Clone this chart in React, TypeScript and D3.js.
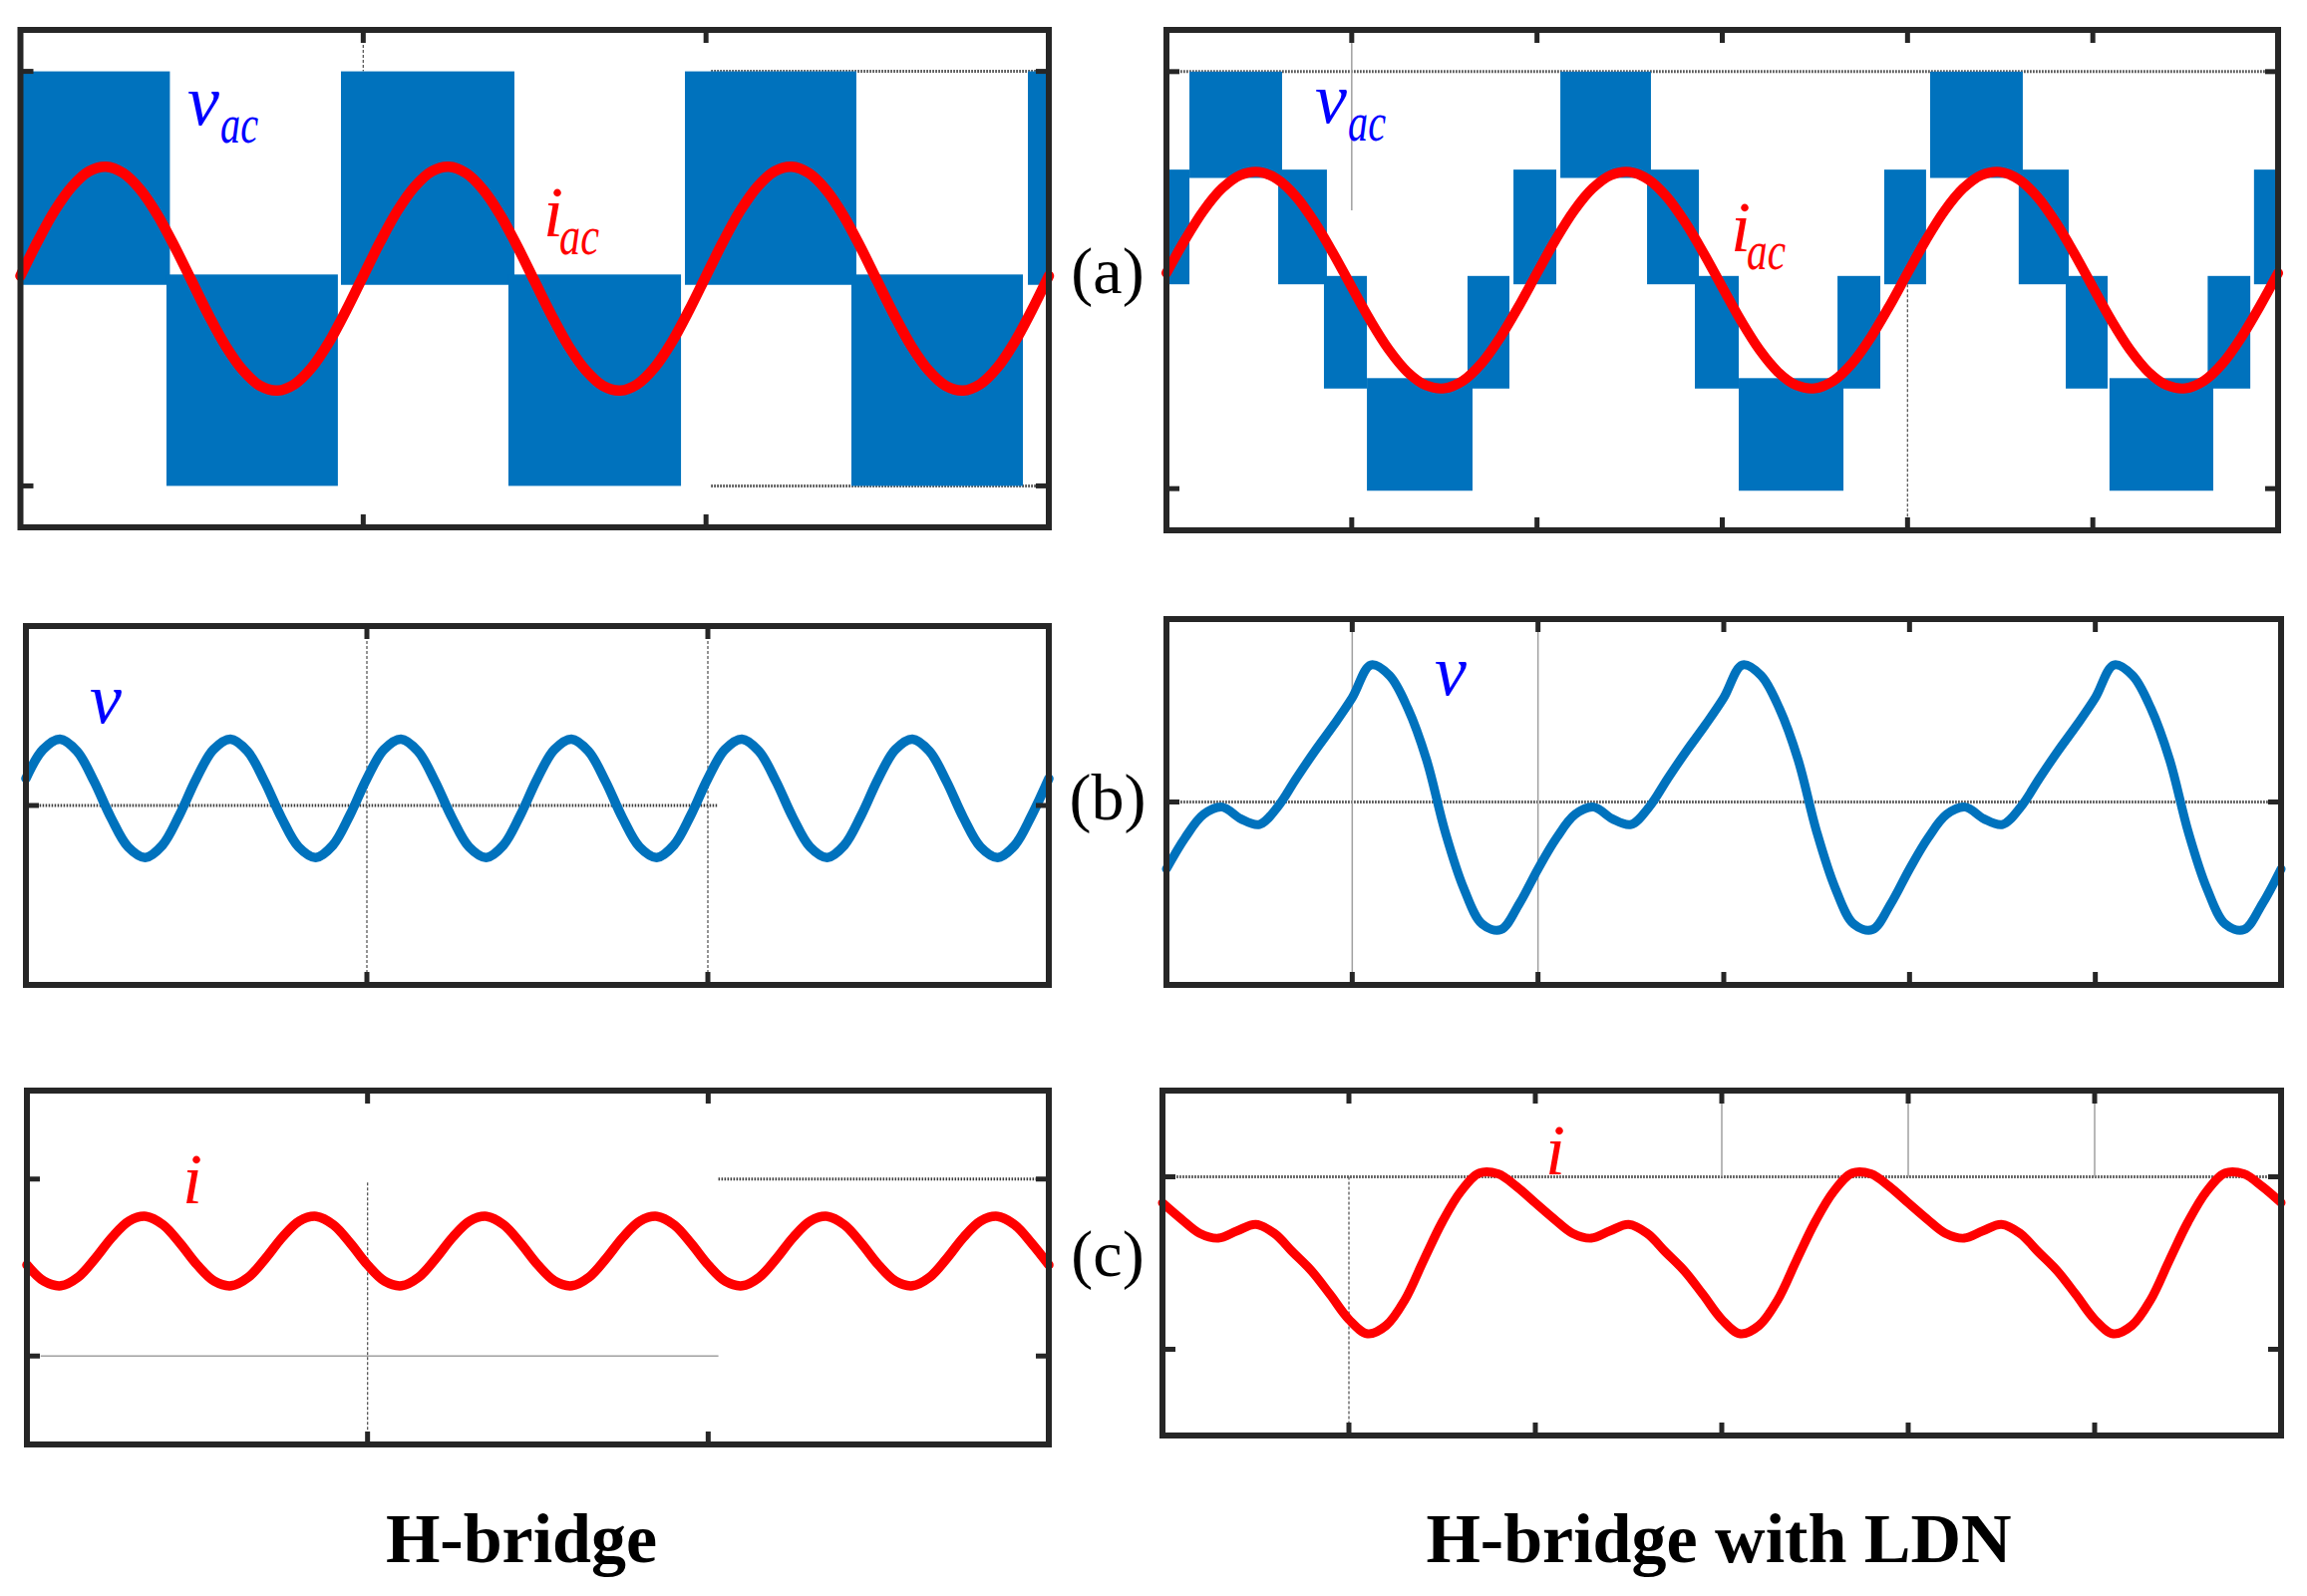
import React from 'react';
import * as d3 from 'd3';

// ---------- DATA (time axis in ms, 1 ms samples over 60 ms = 3 grid periods) ----------
const TIME_MS: number[] = d3.range(0, 61, 1);

const X_TICKS_HB = [20, 40];
const X_TICKS_LDN = [10, 20, 30, 40, 50];
const Y_TICKS_A = [-1, 1];
const Y_TICKS_B = [0];
const Y_TICKS_C = [-0.5, 0.5];

// (a) H-bridge: PWM switched AC voltage bands (ms, normalised level)
const HB_VAC_START = [0, 8.52, 18.7, 28.47, 38.77, 48.48, 58.78];
const HB_VAC_END = [8.72, 18.52, 28.82, 38.54, 48.77, 58.49, 60];
const HB_VAC_HIGH = [1, 0.02, 1, 0.02, 1, 0.02, 1];
const HB_VAC_LOW = [-0.03, -1, -0.03, -1, -0.03, -1, -0.03];

// (a) H-bridge with LDN: multilevel switched voltage bands
const LDN_VAC_START = [0, 1.24, 6.03, 8.5, 10.82, 16.25, 18.73, 21.26, 25.94, 28.52, 30.89, 36.22, 38.74, 41.22, 46.0, 48.54, 50.9, 56.2, 58.7];
const LDN_VAC_END = [1.24, 6.24, 8.66, 10.82, 16.52, 18.51, 21.04, 26.15, 28.74, 30.89, 36.54, 38.53, 41.0, 46.22, 48.7, 50.8, 56.5, 58.5, 60];
const LDN_VAC_HIGH = [0.53, 1.0, 0.53, 0.02, -0.47, 0.02, 0.53, 1.0, 0.53, 0.02, -0.47, 0.02, 0.53, 1.0, 0.53, 0.02, -0.47, 0.02, 0.53];
const LDN_VAC_LOW = [-0.02, 0.49, -0.02, -0.52, -1.01, -0.52, -0.02, 0.49, -0.02, -0.52, -1.01, -0.52, -0.02, 0.49, -0.02, -0.52, -1.01, -0.52, -0.02];

// (a) AC currents
const HB_IAC = [
  0.013, 0.179, 0.328, 0.444, 0.518, 0.54, 0.509, 0.429, 0.307, 0.154,
  -0.013, -0.179, -0.328, -0.444, -0.518, -0.54, -0.509, -0.429, -0.307, -0.154,
  0.013, 0.179, 0.328, 0.444, 0.518, 0.54, 0.509, 0.429, 0.307, 0.154,
  -0.013, -0.179, -0.328, -0.444, -0.518, -0.54, -0.509, -0.429, -0.307, -0.154,
  0.013, 0.179, 0.328, 0.444, 0.518, 0.54, 0.509, 0.429, 0.307, 0.154,
  -0.013, -0.179, -0.328, -0.444, -0.518, -0.54, -0.509, -0.429, -0.307, -0.154,
  0.013,
];
const LDN_IAC = [
  0.034, 0.193, 0.333, 0.44, 0.504, 0.519, 0.483, 0.4, 0.277, 0.128,
  -0.034, -0.193, -0.333, -0.44, -0.504, -0.519, -0.483, -0.4, -0.277, -0.128,
  0.034, 0.193, 0.333, 0.44, 0.504, 0.519, 0.483, 0.4, 0.277, 0.128,
  -0.034, -0.193, -0.333, -0.44, -0.504, -0.519, -0.483, -0.4, -0.277, -0.128,
  0.034, 0.193, 0.333, 0.44, 0.504, 0.519, 0.483, 0.4, 0.277, 0.128,
  -0.034, -0.193, -0.333, -0.44, -0.504, -0.519, -0.483, -0.4, -0.277, -0.128,
  0.034,
];

// (b) DC-link voltages
const HB_V = [
  0.15, 0.312, 0.37, 0.302, 0.134, -0.07, -0.232, -0.29, -0.222, -0.054,
  0.15, 0.312, 0.37, 0.302, 0.134, -0.07, -0.232, -0.29, -0.222, -0.054,
  0.15, 0.312, 0.37, 0.302, 0.134, -0.07, -0.232, -0.29, -0.222, -0.054,
  0.15, 0.312, 0.37, 0.302, 0.134, -0.07, -0.232, -0.29, -0.222, -0.054,
  0.15, 0.312, 0.37, 0.302, 0.134, -0.07, -0.232, -0.29, -0.222, -0.054,
  0.15, 0.312, 0.37, 0.302, 0.134, -0.07, -0.232, -0.29, -0.222, -0.054,
  0.15,
];
const LDN_V = [
  -0.366, -0.196, -0.068, -0.028, -0.092, -0.123, -0.025, 0.131, 0.28, 0.42,
  0.57, 0.749, 0.692, 0.51, 0.231, -0.162, -0.471, -0.668, -0.698, -0.555,
  -0.366, -0.196, -0.068, -0.028, -0.092, -0.123, -0.025, 0.131, 0.28, 0.42,
  0.57, 0.749, 0.692, 0.51, 0.231, -0.162, -0.471, -0.668, -0.698, -0.555,
  -0.366, -0.196, -0.068, -0.028, -0.092, -0.123, -0.025, 0.131, 0.28, 0.42,
  0.57, 0.749, 0.692, 0.51, 0.231, -0.162, -0.471, -0.668, -0.698, -0.555,
  -0.366,
];

// (c) DC-side currents
const HB_I = [
  0.015, -0.077, -0.103, -0.055, 0.05, 0.171, 0.263, 0.289, 0.241, 0.136,
  0.015, -0.077, -0.103, -0.055, 0.05, 0.171, 0.263, 0.289, 0.241, 0.136,
  0.015, -0.077, -0.103, -0.055, 0.05, 0.171, 0.263, 0.289, 0.241, 0.136,
  0.015, -0.077, -0.103, -0.055, 0.05, 0.171, 0.263, 0.289, 0.241, 0.136,
  0.015, -0.077, -0.103, -0.055, 0.05, 0.171, 0.263, 0.289, 0.241, 0.136,
  0.015, -0.077, -0.103, -0.055, 0.05, 0.171, 0.263, 0.289, 0.241, 0.136,
  0.015,
];
const LDN_I = [
  0.349, 0.256, 0.172, 0.144, 0.186, 0.224, 0.172, 0.062, -0.046, -0.184,
  -0.327, -0.41, -0.362, -0.214, 0.014, 0.237, 0.415, 0.522, 0.517, 0.443,
  0.349, 0.256, 0.172, 0.144, 0.186, 0.224, 0.172, 0.062, -0.046, -0.184,
  -0.327, -0.41, -0.362, -0.214, 0.014, 0.237, 0.415, 0.522, 0.517, 0.443,
  0.349, 0.256, 0.172, 0.144, 0.186, 0.224, 0.172, 0.062, -0.046, -0.184,
  -0.327, -0.41, -0.362, -0.214, 0.014, 0.237, 0.415, 0.522, 0.517, 0.443,
  0.35,
];

const ROW_LABELS = ['(a)', '(b)', '(c)'];
const COLUMN_TITLES = ['H-bridge', 'H-bridge with LDN'];

// ---------- STYLE / LAYOUT ----------
const FRAME = '#262626';
const BLUE = '#0072BD';
const RED = '#FF0000';
const LABEL_BLUE = '#0000FF';
const SERIF = '"Liberation Serif", "Times New Roman", serif';

type Box = { x0: number; x1: number; y0: number; y1: number };
type Grid = { dir: 'h' | 'v'; at: number; from: number; to: number; kind: 'thick' | 'thin' | 'light' };

const GRID_STYLE: Record<string, { stroke: string; width: number; dash?: string }> = {
  thick: { stroke: '#3c3c3c', width: 3, dash: '1.5 1.5' },
  thin: { stroke: '#5a5a5a', width: 1.3, dash: '3 2' },
  light: { stroke: '#a0a0a0', width: 1.5 },
};

type Scale = d3.ScaleLinear<number, number>;

function Panel(props: {
  box: Box;
  yDomain: [number, number];
  xTicks: number[];
  yTicks: number[];
  grids: Grid[];
  render: (x: Scale, y: Scale) => React.ReactNode;
}) {
  const { box, yDomain, xTicks, yTicks, grids, render } = props;
  const x = d3.scaleLinear().domain([0, 60]).range([box.x0, box.x1]);
  const y = d3.scaleLinear().domain(yDomain).range([box.y1, box.y0]);
  const TL = 13;
  return (
    <g>
      {grids.map((g, i) => {
        const st = GRID_STYLE[g.kind];
        const p =
          g.dir === 'h'
            ? { x1: x(g.from), x2: x(g.to), y1: y(g.at), y2: y(g.at) }
            : { x1: x(g.at), x2: x(g.at), y1: y(g.from), y2: y(g.to) };
        return <line key={i} {...p} stroke={st.stroke} strokeWidth={st.width} strokeDasharray={st.dash} />;
      })}
      {render(x, y)}
      <rect x={box.x0} y={box.y0} width={box.x1 - box.x0} height={box.y1 - box.y0} fill="none" stroke={FRAME} strokeWidth={6} />
      {xTicks.map((t) => (
        <g key={'x' + t} stroke={FRAME} strokeWidth={5}>
          <line x1={x(t)} x2={x(t)} y1={box.y0} y2={box.y0 + TL} />
          <line x1={x(t)} x2={x(t)} y1={box.y1} y2={box.y1 - TL} />
        </g>
      ))}
      {yTicks.map((t) => (
        <g key={'y' + t} stroke={FRAME} strokeWidth={5}>
          <line x1={box.x0} x2={box.x0 + TL} y1={y(t)} y2={y(t)} />
          <line x1={box.x1} x2={box.x1 - TL} y1={y(t)} y2={y(t)} />
        </g>
      ))}
    </g>
  );
}

function curve(x: Scale, y: Scale, vals: number[]) {
  return (
    d3
      .line<number>()
      .x((_, i) => x(TIME_MS[i]))
      .y((d) => y(d))
      .curve(d3.curveCatmullRom.alpha(0.5))(vals) || ''
  );
}

function bands(x: Scale, y: Scale, s: number[], e: number[], lo: number[], hi: number[]) {
  return s.map((st, i) => (
    <rect key={i} x={x(st)} width={x(e[i]) - x(st)} y={y(hi[i])} height={y(lo[i]) - y(hi[i])} fill={BLUE} />
  ));
}

function Sym(props: { x: number; y: number; main: string; sub?: string; color: string; subLen?: number }) {
  const { x, y, main, sub, color, subLen } = props;
  return (
    <g fill={color} fontFamily={SERIF} fontStyle="italic">
      <text x={x} y={y} fontSize={72}>
        {main}
      </text>
      {sub && (
        <text x={x + (main === 'v' ? 33 : 16)} y={y + 18} fontSize={54} textLength={subLen} lengthAdjust="spacingAndGlyphs">
          {sub}
        </text>
      )}
    </g>
  );
}

export default function App() {
  const AL: Box = { x0: 20.5, x1: 1052, y0: 30, y1: 529 };
  const AR: Box = { x0: 1170, x1: 2285, y0: 30, y1: 532 };
  const BL: Box = { x0: 26, x1: 1052, y0: 628, y1: 988 };
  const BR: Box = { x0: 1170, x1: 2288, y0: 621, y1: 988 };
  const CL: Box = { x0: 27, x1: 1052, y0: 1094, y1: 1449 };
  const CR: Box = { x0: 1166, x1: 2288, y0: 1094, y1: 1440 };

  const lineStyle = { fill: 'none', strokeLinejoin: 'round' as const, strokeLinecap: 'round' as const };

  return (
    <svg width={2314} height={1601} style={{ position: 'absolute', left: 0, top: 0, background: '#fff' }}>
      <rect x={0} y={0} width={2314} height={1601} fill="#fff" />

      {/* (a) left */}
      <Panel
        box={AL}
        yDomain={[-1.2, 1.2]}
        xTicks={X_TICKS_HB}
        yTicks={Y_TICKS_A}
        grids={[
          { dir: 'v', at: 20, from: 1.2, to: 1.0, kind: 'thin' },
          { dir: 'h', at: 1, from: 40.3, to: 60, kind: 'thick' },
          { dir: 'h', at: -1, from: 40.3, to: 60, kind: 'thick' },
        ]}
        render={(x, y) => (
          <g>
            {bands(x, y, HB_VAC_START, HB_VAC_END, HB_VAC_LOW, HB_VAC_HIGH)}
            <path d={curve(x, y, HB_IAC)} stroke={RED} strokeWidth={10.5} {...lineStyle} />
          </g>
        )}
      />
      {/* (a) right */}
      <Panel
        box={AR}
        yDomain={[-1.2, 1.2]}
        xTicks={X_TICKS_LDN}
        yTicks={Y_TICKS_A}
        grids={[
          { dir: 'h', at: 1, from: 0.6, to: 59.5, kind: 'thick' },
          { dir: 'v', at: 10, from: 1.2, to: 0.335, kind: 'light' },
          { dir: 'v', at: 40, from: -0.02, to: -1.2, kind: 'thin' },
        ]}
        render={(x, y) => (
          <g>
            {bands(x, y, LDN_VAC_START, LDN_VAC_END, LDN_VAC_LOW, LDN_VAC_HIGH)}
            <path d={curve(x, y, LDN_IAC)} stroke={RED} strokeWidth={10} {...lineStyle} />
          </g>
        )}
      />
      {/* (b) left */}
      <Panel
        box={BL}
        yDomain={[-1, 1]}
        xTicks={X_TICKS_HB}
        yTicks={Y_TICKS_B}
        grids={[
          { dir: 'h', at: 0, from: 0.8, to: 40.6, kind: 'thick' },
          { dir: 'v', at: 20, from: 1, to: -1, kind: 'thin' },
          { dir: 'v', at: 40, from: 1, to: -1, kind: 'thin' },
        ]}
        render={(x, y) => <path d={curve(x, y, HB_V)} stroke={BLUE} strokeWidth={9.5} {...lineStyle} />}
      />
      {/* (b) right */}
      <Panel
        box={BR}
        yDomain={[-1, 1]}
        xTicks={X_TICKS_LDN}
        yTicks={Y_TICKS_B}
        grids={[
          { dir: 'h', at: 0, from: 0.6, to: 59.5, kind: 'thick' },
          { dir: 'v', at: 10, from: 1, to: -1, kind: 'light' },
          { dir: 'v', at: 20, from: 1, to: -1, kind: 'light' },
        ]}
        render={(x, y) => <path d={curve(x, y, LDN_V)} stroke={BLUE} strokeWidth={9} {...lineStyle} />}
      />
      {/* (c) left */}
      <Panel
        box={CL}
        yDomain={[-1, 1]}
        xTicks={X_TICKS_HB}
        yTicks={Y_TICKS_C}
        grids={[
          { dir: 'h', at: 0.5, from: 40.6, to: 59.4, kind: 'thick' },
          { dir: 'h', at: -0.5, from: 0.8, to: 40.6, kind: 'light' },
          { dir: 'v', at: 20, from: 0.48, to: -1, kind: 'thin' },
        ]}
        render={(x, y) => <path d={curve(x, y, HB_I)} stroke={RED} strokeWidth={9.5} {...lineStyle} />}
      />
      {/* (c) right */}
      <Panel
        box={CR}
        yDomain={[-1, 1]}
        xTicks={X_TICKS_LDN}
        yTicks={Y_TICKS_C}
        grids={[
          { dir: 'h', at: 0.5, from: 0.6, to: 59.5, kind: 'thick' },
          { dir: 'v', at: 10, from: 0.5, to: -1, kind: 'thin' },
          { dir: 'v', at: 30, from: 1, to: 0.5, kind: 'light' },
          { dir: 'v', at: 40, from: 1, to: 0.5, kind: 'light' },
          { dir: 'v', at: 50, from: 1, to: 0.5, kind: 'light' },
        ]}
        render={(x, y) => <path d={curve(x, y, LDN_I)} stroke={RED} strokeWidth={9} {...lineStyle} />}
      />

      {/* curve labels */}
      <Sym x={188} y={125} main="v" sub="ac" color={LABEL_BLUE} subLen={38} />
      <Sym x={545} y={237} main="i" sub="ac" color={RED} subLen={40} />
      <Sym x={1319} y={123} main="v" sub="ac" color={LABEL_BLUE} subLen={38} />
      <Sym x={1736} y={252} main="i" sub="ac" color={RED} subLen={39} />
      <Sym x={90} y={725} main="v" color={LABEL_BLUE} />
      <Sym x={1439} y={697} main="v" color={LABEL_BLUE} />
      <Sym x={183} y={1207} main="i" color={RED} />
      <Sym x={1550} y={1178} main="i" color={RED} />

      {/* row labels */}
      {ROW_LABELS.map((t, i) => (
        <text key={t} x={1111} y={[294, 822, 1280][i]} fontSize={66} fontFamily={SERIF} textAnchor="middle" fill="#000">
          {t}
        </text>
      ))}

      {/* column titles */}
      {COLUMN_TITLES.map((t, i) => (
        <text key={t} x={[523, 1724][i]} y={1567} fontSize={70} fontWeight="bold" fontFamily={SERIF} textAnchor="middle" fill="#000">
          {t}
        </text>
      ))}
    </svg>
  );
}
